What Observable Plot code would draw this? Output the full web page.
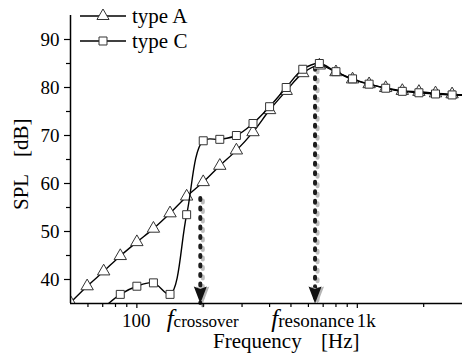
<!DOCTYPE html>
<html><head><meta charset="utf-8">
<script src="https://cdn.jsdelivr.net/npm/d3@7"></script>
<script src="https://cdn.jsdelivr.net/npm/@observablehq/plot@0.6"></script>
<style>
body{margin:0;background:#fff;}
#chart svg, #chart svg text { font-family: "Liberation Serif", "DejaVu Serif", "Times New Roman", serif !important; }
</style>
</head><body><div id="chart"></div>
<script>
// ---- data ----
const freqs = [50, 59.5, 70.7, 84.1, 100, 118.9, 141.4, 168.2, 200, 237.8, 282.8, 336.4, 400, 475.7, 565.7, 672.7, 800, 951.4, 1131, 1345, 1600, 1903, 2263, 2691, 3200];
const typeA = [35.2, 38.6, 41.7, 44.9, 47.8, 50.6, 53.8, 57.3, 60.3, 63.7, 66.9, 70.7, 75.3, 79.3, 83.0, 84.6, 83.2, 81.7, 80.7, 79.9, 79.3, 79.1, 78.8, 78.6, 78.4];
const typeC = [null, null, 34.1, 36.9, 38.6, 39.3, 36.9, 53.5, 68.9, 69.2, 70.0, 72.5, 76.0, 80.0, 83.8, 85.0, 83.3, 81.8, 80.7, 79.85, 79.2, 78.9, 78.65, 78.45, 78.3];
const seriesNames = ["type A", "type C"];
const xDomain = [50, 3000];
const yDomain = [35, 95];
const yMajorTicks = [40, 50, 60, 70, 80, 90];
const yMinorTicks = [45, 55, 65, 75, 85];
const xMajorTicks = [100, 1000];
const xMajorLabels = ["100", "1k"];
const xMinorTicks = [60, 70, 80, 90, 200, 300, 400, 500, 600, 700, 800, 900, 2000];
const markerFreqs = [194, 643];
const markerTops = [56.9, 84.0];
const markerLabelFreqs = [200, 631];
const markerLabelSubs = ["crossover", "resonance"];

const dataA = freqs.map((f, i) => ({f, db: typeA[i]})).filter(d => d.db != null);
const dataC = freqs.map((f, i) => ({f, db: typeC[i]})).filter(d => d.db != null);
const markers = markerFreqs.map((f, i) => ({f, top: markerTops[i]}));

const arrowHead = {
  draw(ctx) {
    ctx.moveTo(0, 0);
    ctx.lineTo(-6.5, -17);
    ctx.lineTo(0, -14.5);
    ctx.lineTo(6.5, -17);
    ctx.closePath();
  }
};

const serif = "Liberation Serif, DejaVu Serif, serif";

const chart = Plot.plot({
  width: 462, height: 356,
  marginLeft: 70, marginRight: 0, marginTop: 15, marginBottom: 53,
  style: {fontSize: "19px", background: "white", color: "#000"},
  x: {type: "log", domain: xDomain},
  y: {domain: yDomain},
  marks: [
    Plot.ruleX(markers, {x: "f", y1: "top", y2: () => yDomain[0], dx: 2.5, dy: 2.5, stroke: "#bdbdbd", strokeWidth: 4, strokeDasharray: "2,7.5", strokeLinecap: "round"}),
    Plot.ruleX(markers, {x: "f", y1: "top", y2: () => yDomain[0], stroke: "#1c1c1c", strokeWidth: 4, strokeDasharray: "2,7.5", strokeLinecap: "round"}),
    Plot.line(dataA, {x: "f", y: "db", curve: "catmull-rom", stroke: "#000", strokeWidth: 1.4, clip: true}),
    Plot.dot(dataA, {x: "f", y: "db", symbol: "triangle", r: 4.6, fill: "white", stroke: "#333", strokeWidth: 1, clip: true}),
    Plot.line(dataC, {x: "f", y: "db", curve: "catmull-rom", stroke: "#000", strokeWidth: 1.4, clip: true}),
    Plot.dot(dataC, {x: "f", y: "db", symbol: "square", r: 4.5, fill: "white", stroke: "#333", strokeWidth: 1, clip: true}),
    Plot.dot(markers, {x: "f", y: () => yDomain[0], dx: 2.5, symbol: arrowHead, fill: "#b5b5b5", stroke: "none"}),
    Plot.dot(markers, {x: "f", y: () => yDomain[0], symbol: arrowHead, fill: "#111", stroke: "none"}),
    Plot.ruleX([xDomain[0]], {stroke: "#000", strokeWidth: 1.5}),
    Plot.ruleY([yDomain[0]], {stroke: "#000", strokeWidth: 1.5}),
    Plot.axisY({ticks: yMajorTicks, tickSize: 6, tickPadding: 5, fontSize: 19, label: null, strokeWidth: 1.2}),
    Plot.axisY({ticks: yMinorTicks, tickSize: 4, tickFormat: () => "", label: null, strokeWidth: 1.2}),
    Plot.axisX({ticks: xMajorTicks, tickSize: 5, tickFormat: () => "", label: null, strokeWidth: 1.2}),
    Plot.axisX({ticks: xMinorTicks, tickSize: 4, tickFormat: () => "", label: null, strokeWidth: 1.2})
  ]
});

document.getElementById("chart").appendChild(chart);

// ---- custom text labels ----
const svg = d3.select(chart);
const xs = chart.scale("x");
const fs = "19px";
const tickBaseline = 326.5;
const addText = (x, y, txt, size, anchor) => svg.append("text")
  .attr("x", x).attr("y", y).attr("text-anchor", anchor).attr("font-family", serif)
  .attr("font-size", size).attr("fill", "#000").text(txt);

// x major tick labels
addText(xs.apply(xMajorTicks[0]), tickBaseline, xMajorLabels[0], fs, "middle");
addText(xs.apply(xMajorTicks[1]), tickBaseline, xMajorLabels[1], fs, "start");

// f labels
markerLabelFreqs.forEach((f, i) => {
  const t = svg.append("text").attr("x", xs.apply(f)).attr("y", tickBaseline)
    .attr("text-anchor", "middle").attr("font-family", serif).attr("fill", "#000");
  t.append("tspan").attr("font-style", "italic").attr("font-size", "25px").text("f");
  t.append("tspan").attr("font-size", i === 0 ? "17px" : "19px").text(markerLabelSubs[i]);
});

// axis titles
addText(213, 348, "Frequency", "21px", "start");
addText(321, 348, "[Hz]", "21px", "start");
svg.append("text").attr("transform", "translate(28,210) rotate(-90)").attr("text-anchor", "start").attr("font-family", serif).attr("font-size", "21px").attr("fill", "#000").text("SPL");
svg.append("text").attr("transform", "translate(28,157) rotate(-90)").attr("text-anchor", "start").attr("font-family", serif).attr("font-size", "21px").attr("fill", "#000").text("[dB]");

// legend
const legendSymbols = [d3.symbolTriangle, d3.symbolSquare];
seriesNames.forEach((name, i) => {
  const cy = 16 + i * 25;
  const g = svg.append("g");
  g.append("line").attr("x1", 80).attr("x2", 126).attr("y1", cy).attr("y2", cy).attr("stroke", "#000").attr("stroke-width", 1.4);
  g.append("path").attr("d", d3.symbol(legendSymbols[i], 4.5 * 4.5 * Math.PI)())
    .attr("transform", `translate(103,${cy})`).attr("fill", "white").attr("stroke", "#333");
  addText(132, cy + 7, name, "21px", "start");
});
</script>
</body></html>
